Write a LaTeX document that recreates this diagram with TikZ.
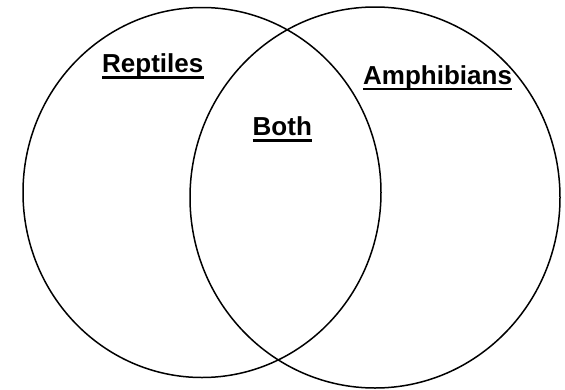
\documentclass[tikz,border=0pt]{standalone}
\usepackage{fontspec}
\setmainfont{Liberation Sans}
\begin{document}
\begin{tikzpicture}[x=1pt,y=-1pt,
  ring/.style={draw=black,line width=1.5pt},
  setlabel/.style={anchor=base west,inner sep=0pt,font=\fontsize{26}{31}\selectfont\bfseries},
  uline/.style={draw=black,line width=2.5pt}]
\useasboundingbox (0,0) rectangle (565,389);
\path[ring] (202,192.5) ellipse [x radius=179, y radius=185];
\path[ring] (375,197.5) ellipse [x radius=185, y radius=190.5];
\node[setlabel] (rep) at (102,72.5) {Reptiles};
\node[setlabel] (both) at (252.5,135.5) {Both};
\node[setlabel] (amph) at (363,84) {Amphibians};
\foreach \n in {rep,both,amph}
  \draw[uline] ([yshift=-5pt]\n.base west) -- ([yshift=-5pt]\n.base east);
\end{tikzpicture}
\end{document}
